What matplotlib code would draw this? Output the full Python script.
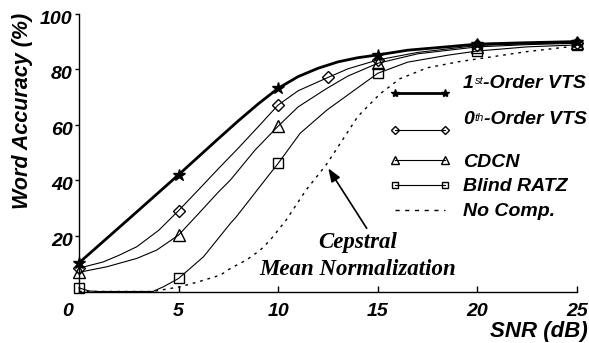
import matplotlib
matplotlib.use("Agg")
import matplotlib.pyplot as plt
from matplotlib.lines import Line2D
from matplotlib.transforms import ScaledTranslation

# marker points (SNR in dB, word accuracy in %)
snr = [0, 5, 10, 15, 20, 25]
vts1_acc = [10.3, 42.0, 73.1, 85.1, 89.0, 89.9]
vts0_snr = [0, 5, 10, 12.5, 15, 20, 25]
vts0_acc = [8.4, 29.1, 67.1, 77.0, 83.3, 88.5, 89.5]
cdcn_acc = [6.9, 20.3, 59.5, 82.1, 88.0, 89.3]
ratz_acc = [1.3, 4.7, 46.1, 78.5, 86.5, 88.7]

# curve traces
vts1_cx = [0, 2.5, 5, 6, 7, 8, 9, 10, 11, 12, 13, 14, 15, 16.5, 18.6, 20, 22.5, 25]
vts1_cy = [10.3, 26.1, 42.0, 48.5, 55.0, 61.4, 67.5, 73.1, 77.3, 80.3, 82.6, 84.1, 85.1, 86.8, 88.1, 89.0, 89.5, 89.9]
vts0_cx = [0, 1.2, 2, 2.9, 4, 5, 6, 7, 8, 9, 10, 11, 12.5, 13.5, 15, 17, 20, 22.5, 25]
vts0_cy = [8.4, 10.6, 13.0, 16.1, 22.0, 29.1, 36.6, 44.2, 51.6, 59.3, 67.1, 72.2, 77.0, 80.1, 83.3, 86.0, 88.5, 89.1, 89.5]
cdcn_cx = [0, 1.4, 2.9, 3.9, 5, 6, 7, 7.6, 8.84, 10, 11, 12.45, 13.5, 15, 17, 20, 22.5, 25]
cdcn_cy = [6.9, 8.9, 11.9, 14.9, 20.3, 28.0, 35.8, 40.1, 50.9, 59.5, 66.4, 73.1, 77.5, 82.1, 85.5, 88.0, 88.8, 89.3]
ratz_cx = [0, 0.5, 1, 3.7, 4.24, 5, 6.25, 7.6, 7.9, 9.6, 10, 11.1, 12.45, 15, 16.5, 18.6, 20, 22.5, 25]
ratz_cy = [1.3, 0.2, 0, 0, 1.7, 4.7, 12.5, 24.5, 26.9, 42.5, 46.1, 56.9, 65.3, 78.5, 82.5, 85.1, 86.5, 88.0, 88.7]
nocomp_x = [0, 3.7, 5.07, 6.0, 7.1, 7.6, 8.4, 9.1, 9.6, 10.4, 11.4, 12.4, 12.9, 14, 15.1, 16.1, 17.5, 19.1, 20.8, 22.5, 24.7, 25]
nocomp_y = [0, 0, 1.7, 3.5, 5.9, 8.3, 11.3, 14.9, 18.5, 25.7, 36.5, 45.5, 50.9, 63.0, 71.0, 76.5, 80.5, 82.7, 84.5, 86.3, 88.1, 88.3]

x_ticks = [0, 5, 10, 15, 20, 25]
y_ticks = [20, 40, 60, 80, 100]

W, H = 589, 343
SANS = "Liberation Sans"
SERIF = "Liberation Serif"


def fx(px):
    return px / W


def fy(py):
    return 1 - py / H


fig = plt.figure(figsize=(W / 100, H / 100), dpi=100)
ax = fig.add_axes([fx(79), fy(291.5), fx(577) - fx(79), fy(13.5) - fy(291.5)])

thin = dict(color="black", lw=0.8)
ax.plot(nocomp_x, nocomp_y, color="black", lw=1.0, ls=(0, (2, 3.5)), clip_on=False)
ax.plot(ratz_cx, ratz_cy, clip_on=False, **thin)
ax.plot(cdcn_cx, cdcn_cy, clip_on=False, **thin)
ax.plot(vts0_cx, vts0_cy, clip_on=False, **thin)
ax.plot(vts1_cx, vts1_cy, color="black", lw=2.0, clip_on=False)

mk = dict(ls="none", mec="black", mew=1.0, clip_on=False, zorder=3)
ax.plot(snr, ratz_acc, marker="s", ms=7, mfc="none", **mk)
ax.plot(snr, cdcn_acc, marker="^", ms=9, mfc="none", **mk)
ax.plot(vts0_snr, vts0_acc, marker="D", ms=5.8, mfc="none", **mk)
ax.plot(snr, vts1_acc, marker="*", ms=9, mfc="black", **mk)

ax.set_xlim(0, 25)
ax.set_ylim(0, 100)
ax.set_xticks(x_ticks)
ax.set_yticks(y_ticks)
for s in ("top", "right"):
    ax.spines[s].set_visible(False)
for s in ("left", "bottom"):
    ax.spines[s].set_linewidth(1.0)
ax.tick_params(axis="x", direction="in", length=4, width=1.0, pad=8.5)
ax.tick_params(axis="y", direction="out", length=3, width=1.0, pad=1.5)
tick_font = dict(family=SANS, size=14, weight="bold", style="italic")
ax.set_xticklabels([str(t) for t in x_ticks], **tick_font)
ax.set_yticklabels([str(t) for t in y_ticks], **tick_font)
ax.get_xticklabels()[0].set_transform(
    ax.get_xticklabels()[0].get_transform() + ScaledTranslation(-0.11, 0, fig.dpi_scale_trans))
for lab in ax.get_yticklabels():
    lab.set_transform(lab.get_transform() + ScaledTranslation(0, -0.035, fig.dpi_scale_trans))

label_font = dict(family=SANS, weight="bold", style="italic")
fig.text(fx(23), fy(13), "Word Accuracy (%)", rotation=90, ha="center", va="top",
         size=15.5, **label_font)
fig.text(fx(588), fy(337.5), "SNR (dB)", ha="right", va="baseline", size=16, **label_font)

# annotation
serif_font = dict(family=SERIF, size=16.5, weight="bold", style="italic")
fig.text(fx(357.5), fy(248.3), "Cepstral", ha="center", va="baseline", **serif_font)
fig.text(fx(357.5), fy(275), "Mean Normalization", ha="center", va="baseline", **serif_font)
ax.annotate("", xy=(fx(328.3), fy(168.3)), xycoords="figure fraction",
            xytext=(fx(366.7), fy(228.3)), textcoords="figure fraction",
            arrowprops=dict(arrowstyle="-|>,head_length=0.8,head_width=0.3",
                            color="black", lw=1.2, shrinkA=0, shrinkB=0))

# hand-made legend
legend_font = dict(family=SANS, size=14, weight="bold", style="italic")
legend_rows = [
    (93.3, 91.7, dict(marker="*", ms=6, mfc="black", lw=2.0), ("1", "st", "-Order VTS")),
    (130, 128.3, dict(marker="D", ms=4, mfc="none", lw=0.8), ("0", "th", "-Order VTS")),
    (160, 166.7, dict(marker="^", ms=6, mfc="none", lw=0.8), ("CDCN",)),
    (185, 191, dict(marker="s", ms=4.5, mfc="none", lw=0.8), ("Blind RATZ",)),
    (210, 216, dict(marker=None, lw=1.0, ls=(0, (3, 4))), ("No Comp.",)),
]
for line_y, base_y, style, parts in legend_rows:
    fig.add_artist(Line2D([fx(395), fx(445)], [fy(line_y)] * 2, transform=fig.transFigure,
                          color="black", mec="black", mew=1.0, **style))
    if len(parts) == 1:
        fig.text(fx(463), fy(base_y), parts[0], ha="left", va="baseline", **legend_font)
    else:
        t1 = fig.text(fx(463), fy(base_y), parts[0], ha="left", va="bottom", **legend_font)
        t2 = ax.annotate(parts[1], xy=(1, 1), xycoords=t1, ha="left", va="top",
                         xytext=(0.5, -1), textcoords="offset points",
                         family=SANS, size=8, style="italic")
        ax.annotate(parts[2], xy=(1, 0), xycoords=(t2, t1), ha="left", va="bottom",
                    **legend_font)

fig.savefig("out.png", dpi=100)
